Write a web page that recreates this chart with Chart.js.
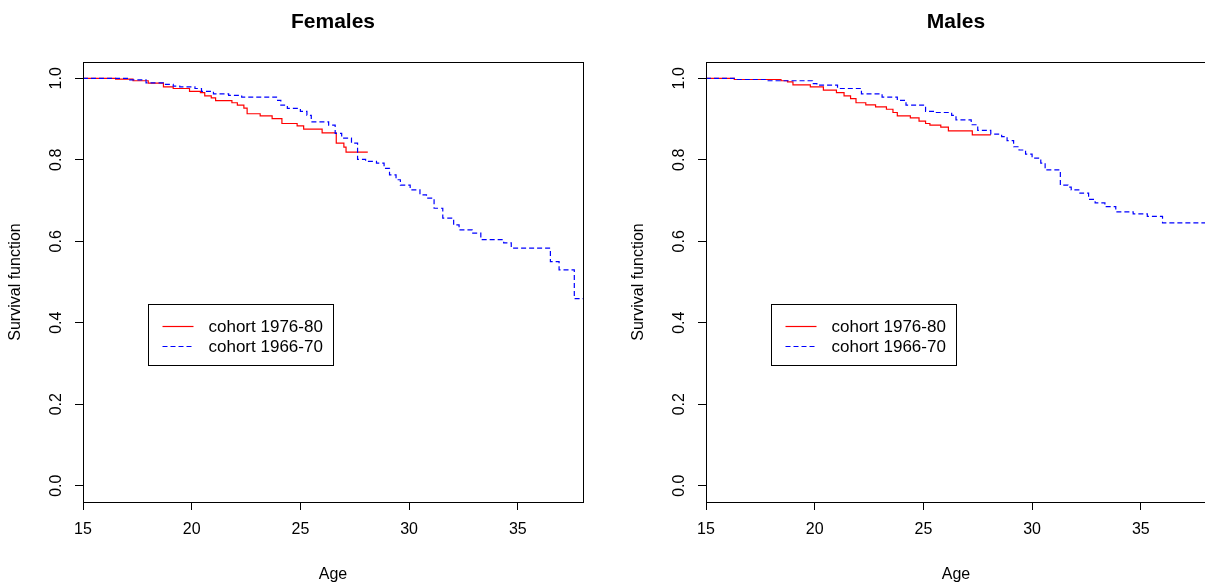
<!DOCTYPE html>
<html>
<head>
<meta charset="utf-8">
<title>Survival by cohort</title>
<script src="https://cdn.jsdelivr.net/npm/chart.js@4.4.0/dist/chart.umd.min.js"></script>
<style>
  html, body { margin: 0; padding: 0; background: #fff; overflow: hidden; }
  #wrap { position: relative; width: 1205px; height: 587px; overflow: hidden; }
  canvas { position: absolute; top: 0; }
  #females { left: 0; }
  #males { left: 623px; }
</style>
</head>
<body>
<div id="wrap">
  <canvas id="females" width="602" height="587"></canvas>
  <canvas id="males" width="602" height="587"></canvas>
</div>
<script>
// ── Data (Kaplan-Meier steps: age where the curve drops, value from there on) ──
const xTickValues = [15, 20, 25, 30, 35];
const yTickValues = [0, 0.2, 0.4, 0.6, 0.8, 1.0];
const seriesLabels = ['cohort 1976-80', 'cohort 1966-70'];

const femRecentAge  = [15, 16.5, 17.3, 18.0, 18.7, 19.15, 19.9, 20.4, 20.6, 20.9, 21.1, 21.85, 22.1, 22.4, 22.55,
                       23.15, 23.7, 24.15, 24.85, 25.15, 26.0, 26.65, 27.0, 27.1, 28.1];
const femRecentSurv = [1.0, 0.998, 0.994, 0.988, 0.979, 0.975, 0.968, 0.965, 0.957, 0.952, 0.945, 0.940, 0.934, 0.927, 0.913,
                       0.908, 0.901, 0.889, 0.883, 0.875, 0.866, 0.841, 0.831, 0.819, 0.819];

const femOlderAge  = [15, 17.15, 17.9, 18.7, 19.15, 19.45, 20.15, 20.45, 21.0, 21.7, 22.3, 23.9, 24.1, 24.4, 25.0, 25.3,
                      25.5, 26.3, 26.6, 26.9, 27.35, 27.63, 28.0, 28.5, 28.85, 29.1, 29.4, 29.6, 30.05, 30.5, 30.8,
                      31.15, 31.55, 32.05, 32.3, 32.9, 33.3, 34.35, 34.7, 36.5, 36.9, 37.6, 38];
const femOlderSurv = [1.0, 0.996, 0.989, 0.985, 0.981, 0.979, 0.975, 0.968, 0.962, 0.958, 0.954, 0.946, 0.934, 0.926, 0.919, 0.909,
                      0.893, 0.885, 0.865, 0.853, 0.841, 0.801, 0.796, 0.792, 0.779, 0.763, 0.751, 0.738, 0.726, 0.714, 0.706,
                      0.681, 0.657, 0.640, 0.628, 0.620, 0.604, 0.596, 0.583, 0.550, 0.530, 0.459, 0.459];

const maleRecentAge  = [15, 16.3, 18.45, 18.75, 19.0, 19.8, 20.4, 21.0, 21.35, 21.65, 21.9, 22.35, 22.8, 23.3, 23.6,
                        23.8, 24.4, 24.8, 25.1, 25.3, 25.8, 26.15, 27.25, 28.1];
const maleRecentSurv = [1.0, 0.997, 0.994, 0.991, 0.984, 0.979, 0.971, 0.965, 0.957, 0.950, 0.940, 0.935, 0.930, 0.924, 0.916,
                        0.908, 0.903, 0.895, 0.889, 0.885, 0.880, 0.871, 0.861, 0.861];

const maleOlderAge  = [15, 16.3, 17.8, 19.9, 20.1, 21.05, 22.15, 23.1, 23.8, 24.2, 25.1, 25.5, 26.3, 26.5, 27.2, 27.5,
                       28.1, 28.6, 28.85, 29.15, 29.4, 29.7, 30.0, 30.4, 30.6, 31.3, 31.65, 31.8, 32.2, 32.6, 32.9,
                       33.35, 33.85, 34.65, 35.3, 36.0, 38];
const maleOlderSurv = [1.0, 0.997, 0.994, 0.987, 0.983, 0.975, 0.962, 0.954, 0.946, 0.934, 0.919, 0.916, 0.909, 0.898, 0.886, 0.872,
                       0.863, 0.857, 0.847, 0.832, 0.824, 0.814, 0.804, 0.792, 0.775, 0.738, 0.733, 0.726, 0.718, 0.703, 0.694,
                       0.685, 0.672, 0.667, 0.661, 0.645, 0.645];

// ── Shared look ────────────────────────────────────────────
const FONT = '"Liberation Sans", Arial, Helvetica, sans-serif';
Chart.defaults.font.family = FONT;
Chart.defaults.color = '#000';

const toPoints = (ages, surv) => ages.map((a, i) => ({ x: a, y: surv[i] }));

// R-style box, rotated y tick labels and boxed legend
const rFrame = {
  id: 'rFrame',
  afterDatasetsDraw(chart, args, opts) {
    const { ctx, chartArea: a, scales: { x, y } } = chart;
    ctx.save();
    ctx.strokeStyle = '#000';
    ctx.lineWidth = 1;
    ctx.strokeRect(Math.round(a.left) + 0.5, Math.round(a.top) + 0.5,
                   Math.round(a.right - a.left), Math.round(a.bottom - a.top));

    ctx.fillStyle = '#000';
    ctx.font = '16px ' + FONT;
    ctx.textAlign = 'center';
    ctx.textBaseline = 'middle';
    y.ticks.forEach(t => {
      ctx.save();
      ctx.translate(opts.yLabelX, y.getPixelForValue(t.value));
      ctx.rotate(-Math.PI / 2);
      ctx.fillText(t.value.toFixed(1), 0, 0);
      ctx.restore();
    });

    // legend
    const lg = opts.legend;
    const left = Math.round(x.getPixelForValue(lg.x)) + 0.5;
    const top = Math.round(y.getPixelForValue(lg.y)) + 0.5;
    ctx.fillStyle = '#fff';
    ctx.fillRect(left, top, lg.width, lg.height);
    ctx.strokeStyle = '#000';
    ctx.strokeRect(left, top, lg.width, lg.height);
    ctx.font = lg.fontSize + 'px ' + FONT;
    ctx.textAlign = 'left';
    chart.data.datasets.forEach((ds, i) => {
      const ry = Math.round(top + lg.firstRow + i * lg.rowGap) + 0.5;
      ctx.strokeStyle = ds.borderColor;
      ctx.lineWidth = ds.borderWidth;
      ctx.setLineDash(ds.borderDash || []);
      ctx.beginPath();
      ctx.moveTo(left + 14, ry);
      ctx.lineTo(left + 45, ry);
      ctx.stroke();
      ctx.setLineDash([]);
      ctx.fillStyle = '#000';
      ctx.fillText(ds.label, left + 60, ry + 1);
    });
    ctx.restore();
  }
};

function survivalChart(id, title, recent, older) {
  return new Chart(document.getElementById(id), {
    type: 'line',
    data: {
      datasets: [{
        label: seriesLabels[0],
        data: recent,
        borderColor: '#ff0000',
        borderWidth: 1.2,
        stepped: 'before',
        pointRadius: 0,
        fill: false,
        order: 1,
      }, {
        label: seriesLabels[1],
        data: older,
        borderColor: '#0000ff',
        borderWidth: 1.2,
        borderDash: [5, 3],
        stepped: 'before',
        pointRadius: 0,
        fill: false,
        order: 0,
      }]
    },
    options: {
      responsive: false,
      animation: false,
      devicePixelRatio: 1,
      layout: { padding: { left: 0, right: 19, top: 0, bottom: 0 } },
      plugins: {
        legend: { display: false },
        tooltip: { enabled: false },
        title: { display: false },
        rFrame: {
          yLabelX: 57,
          legend: { x: 18, y: 0.445, width: 185, height: 61, firstRow: 21, rowGap: 20, fontSize: 17 }
        }
      },
      scales: {
        x: {
          type: 'linear',
          min: 15, max: 38,
          afterBuildTicks: s => { s.ticks = xTickValues.map(v => ({ value: v })); },
          afterFit: s => { s.height = 85; },
          ticks: { font: { size: 16 }, color: '#000', padding: 10, maxRotation: 0 },
          grid: { display: true, drawOnChartArea: false, drawTicks: true, tickLength: 8, color: '#000', lineWidth: 1 },
          border: { display: false },
          title: { display: true, text: 'Age', font: { size: 16 }, color: '#000', padding: { top: 0, bottom: 3 } }
        },
        x2: {
          type: 'linear',
          position: 'top',
          min: 15, max: 38,
          afterFit: s => { s.height = 62; },
          ticks: { display: false },
          grid: { display: false },
          border: { display: false },
          title: { display: true, text: title, font: { size: 21, weight: 'bold' }, color: '#000', padding: { top: 10, bottom: 0 } }
        },
        y: {
          type: 'linear',
          min: -0.04, max: 1.04,
          afterBuildTicks: s => { s.ticks = yTickValues.map(v => ({ value: v })); },
          afterFit: s => { s.width = 83; },
          ticks: { display: false },
          grid: { display: true, drawOnChartArea: false, drawTicks: true, tickLength: 8, color: '#000', lineWidth: 1 },
          border: { display: false },
          title: { display: true, text: 'Survival function', font: { size: 16 }, color: '#000', padding: { top: 6, bottom: 0 } }
        }
      }
    },
    plugins: [rFrame]
  });
}

// ── Panels ────────────────────────────────────────────────
survivalChart('females', 'Females', toPoints(femRecentAge, femRecentSurv), toPoints(femOlderAge, femOlderSurv));
survivalChart('males', 'Males', toPoints(maleRecentAge, maleRecentSurv), toPoints(maleOlderAge, maleOlderSurv));
</script>
</body>
</html>
